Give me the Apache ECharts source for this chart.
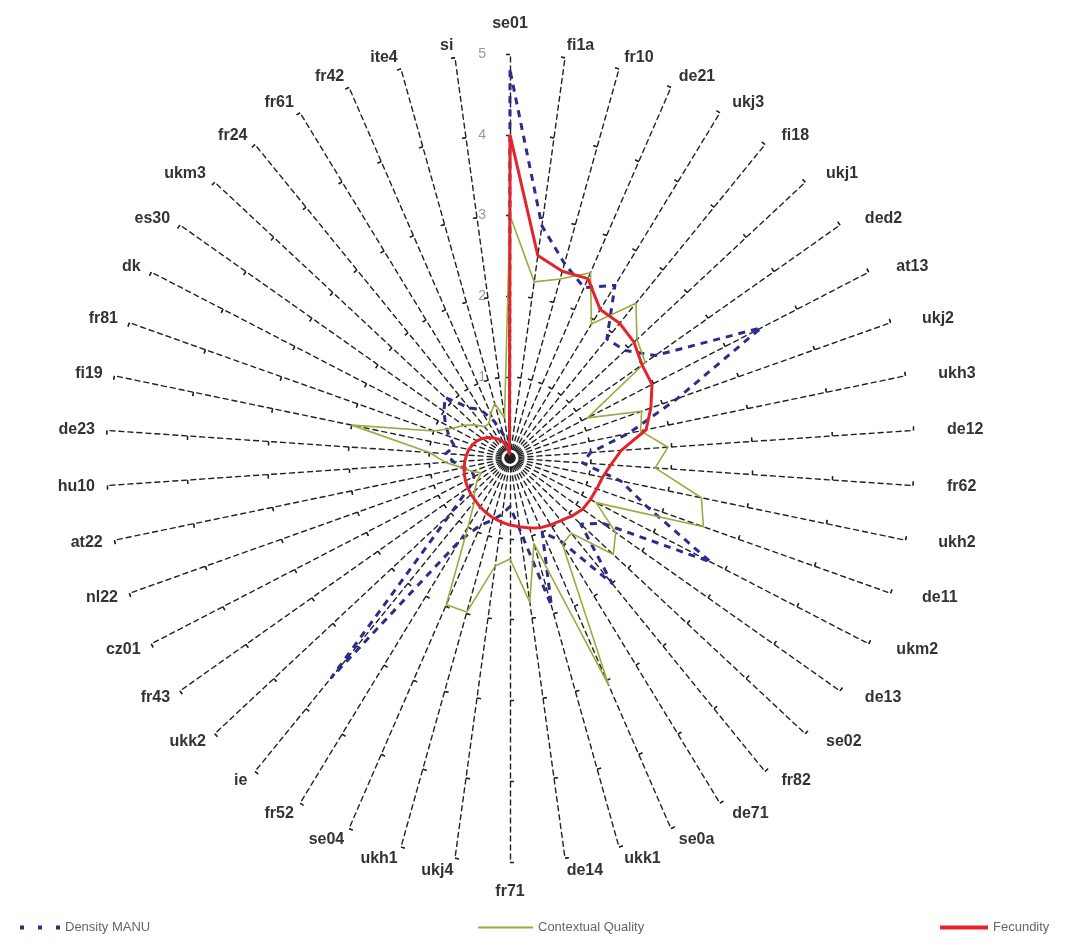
<!DOCTYPE html>
<html>
<head>
<meta charset="utf-8">
<script src="https://cdn.jsdelivr.net/npm/echarts@6/dist/echarts.min.js"></script>
<style>
  html, body { margin: 0; padding: 0; background: #fff; }
  #chart { width: 1072px; height: 952px; }
</style>
</head>
<body>
<div id="chart"></div>
<script>
// regions, clockwise from the top
var regions = ["se01","fi1a","fr10","de21","ukj3","fi18","ukj1","ded2","at13","ukj2","ukh3","de12",
  "fr62","ukh2","de11","ukm2","de13","se02","fr82","de71","se0a","ukk1","de14","fr71","ukj4","ukh1",
  "se04","fr52","ie","ukk2","fr43","cz01","nl22","at22","hu10","de23","fi19","fr81","dk","es30",
  "ukm3","fr24","fr61","fr42","ite4","si"]

var densityManu = [4.8,2.9,2.5,2.3,2.5,1.9,1.95,2.2,3.5,2.2,1.5,1.0,
  0.9,1.4,1.8,2.8,1.4,1.2,2.0,1.2,1.0,1.9,0.9,0.6,0.7,0.8,
  0.9,1.2,3.5,1.0,0.6,0.5,0.5,0.6,0.7,0.8,0.7,0.8,0.9,1.0,
  1.1,0.8,0.7,0.5,0.3,0.05]

var contextualQuality = [3.0,2.2,2.3,2.5,1.94,2.47,2.15,2.05,1.08,1.73,1.65,1.96,
  1.8,2.42,2.54,1.2,1.6,1.75,1.2,1.25,3.06,1.1,1.8,1.25,1.35,1.98,
  1.98,1.0,0.7,0.6,0.5,0.4,0.5,0.6,0.8,1.0,2.0,1.0,0.8,0.7,
  0.6,0.5,0.5,0.6,0.7,0.5]

var fecundity = [4.0,2.53,2.4,2.42,2.15,2.15,2.1,2.0,1.98,1.85,1.72,1.38,
  1.25,1.17,1.14,1.12,1.1,1.05,1.0,0.97,0.94,0.9,0.86,0.83,0.8,0.77,
  0.74,0.71,0.68,0.66,0.64,0.62,0.6,0.58,0.56,0.54,0.52,0.49,0.46,0.42,
  0.37,0.32,0.27,0.22,0.15,0.05]

var axisMax = 5

// echarts radar runs counter-clockwise, so keep the first axis and reverse the rest
function cw(arr) { return [arr[0]].concat(arr.slice(1).reverse()) }

var n = regions.length
var indicator = cw(regions).map(function (name, i) {
  var ang = (i == 0 ? 0 : (n - i)) * 2 * Math.PI / n
  var s = Math.sin(ang)
  var ind = {name: name, max: axisMax, min: 0, nameGap: Math.abs(s) < 0.01 ? 22 : 12}
  // right hand labels sit a little further out
  if (s > 0) ind.nameTextStyle = {padding: [0, 0, 0, Math.round(22 * s * s)]}
  if (i == 0) ind.axisLabel = {show: true}
  return ind
})
var tickIndicator = cw(regions).map(function (name) { return {name: name, max: axisMax, min: 0} })

var geo = {center: [510, 458], radius: 404, startAngle: 90, splitNumber: 5, shape: "polygon",
  splitLine: {show: false}, splitArea: {show: false}}
var tick = {color: "#222", width: 1.3}
var legendText = {color: "#666", fontSize: 13, fontFamily: "Liberation Sans"}

var chart = echarts.init(document.getElementById("chart"))
chart.setOption({
  animation: false,
  radar: [
    Object.assign({}, geo, {
      indicator: indicator,
      axisName: {color: "#333", fontSize: 16, fontWeight: "bold", fontFamily: "Liberation Sans"},
      axisLine: {lineStyle: {color: "#222", width: 1.4, type: [5, 4]}},
      axisTick: {show: true, length: 4, lineStyle: tick},
      axisLabel: {show: false, color: "#999", fontSize: 14, showMinLabel: false, margin: 24,
        fontFamily: "Liberation Sans"}
    }),
    // second copy only for the other half of each tick
    Object.assign({}, geo, {
      indicator: tickIndicator,
      axisName: {show: false},
      axisLine: {show: false},
      axisTick: {show: true, inside: true, length: 4, lineStyle: tick},
      axisLabel: {show: false}
    })
  ],
  legend: [
    {data: ["Density MANU"], left: 15, top: 916, itemWidth: 40, itemHeight: 4,
      icon: "path://M0,0h4v4h-4z M18,0h4v4h-4z M36,0h4v4h-4z", textStyle: legendText},
    {data: ["Contextual Quality"], left: 473, top: 916, itemWidth: 55, itemHeight: 2,
      icon: "rect", textStyle: legendText},
    {data: ["Fecundity"], left: 935, top: 916, itemWidth: 48, itemHeight: 4,
      icon: "rect", textStyle: legendText}
  ],
  series: [{
    type: "radar", radarIndex: 0, symbol: "none", silent: true,
    data: [
      {name: "Density MANU", value: cw(densityManu),
        lineStyle: {color: "#2c2c8c", width: 3, type: [7, 6]}, itemStyle: {color: "#2c2c8c"}},
      {name: "Contextual Quality", value: cw(contextualQuality),
        lineStyle: {color: "#9cab3f", width: 1.6}, itemStyle: {color: "#9cab3f"}},
      {name: "Fecundity", value: cw(fecundity),
        lineStyle: {color: "#e5242a", width: 3}, itemStyle: {color: "#e5242a"}}
    ]
  }]
})
</script>
</body>
</html>
